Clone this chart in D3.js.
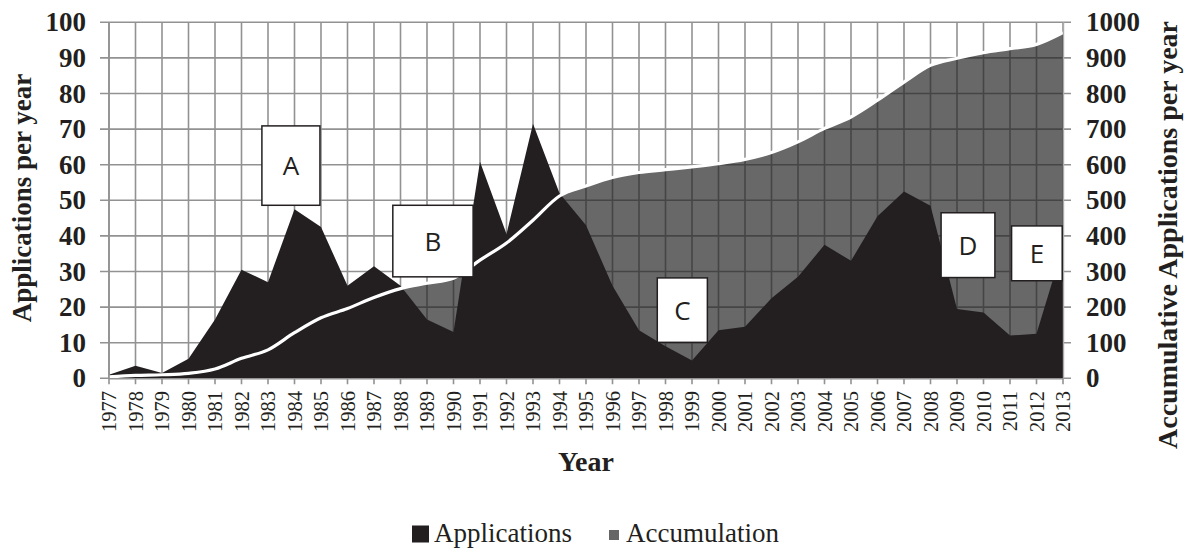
<!DOCTYPE html>
<html>
<head>
<meta charset="utf-8">
<script src="https://cdn.jsdelivr.net/npm/d3@7/dist/d3.min.js"></script>
<style>
  html, body { margin: 0; padding: 0; background: #fff; }
  svg { display: block; }
</style>
</head>
<body>
<svg id="chart" width="1186" height="549"></svg>
<script>
// ---- data ----
const years = d3.range(1977, 2014);
const applications = [1, 3.5, 1.5, 5.5, 16.5, 30.5, 27, 47.5, 42.5, 26, 31.5, 26, 16.5, 13, 60.8, 40.5, 71.5, 52, 43, 26, 13.5, 9, 5, 13.5, 14.5, 22.5, 28.5, 37.5, 33, 45.5, 52.5, 48.5, 19.5, 18.5, 12, 12.5, 37];
const accumulation = [4, 8, 10, 14, 26, 56, 80, 128, 170, 196, 227, 252, 267, 281, 332, 380, 444, 512, 540, 564, 578, 586, 594, 603, 615, 634, 664, 702, 734, 781, 832, 879, 899, 915, 926, 938, 971];
const leftTicks = [0, 10, 20, 30, 40, 50, 60, 70, 80, 90, 100];
const rightTicks = [0, 100, 200, 300, 400, 500, 600, 700, 800, 900, 1000];
const boxLabels = ["A", "B", "C", "D", "E"];
const boxX0 = [1982.77, 1987.71, 1997.69, 2008.40, 2011.06];
const boxX1 = [1984.96, 1990.74, 1999.58, 2010.43, 2012.97];
const boxTop = [70.9, 48.6, 28.2, 46.5, 42.8];
const boxBottom = [48.6, 28.5, 10.1, 28.3, 27.4];
const seriesNames = ["Applications", "Accumulation"];

// ---- layout ----
const svg = d3.select("#chart");
const W = 1186, H = 549;
const L = 109, R = 1063, T = 22.3, B = 378.3;
const ink = "#231f20";
const gridColor = "#929292";

svg.append("rect").attr("width", W).attr("height", H).attr("fill", "#fff");

const x = d3.scaleLinear().domain([1977, 2013]).range([L, R]);
const yL = d3.scaleLinear().domain([0, 100]).range([B, T]);
const yR = d3.scaleLinear().domain([0, 1000]).range([B, T]);

// grid
const g = svg.append("g");
g.selectAll("line.h").data(leftTicks).join("line")
  .attr("x1", L - 9).attr("x2", R + 8)
  .attr("y1", d => yL(d)).attr("y2", d => yL(d))
  .attr("stroke", gridColor).attr("stroke-width", 1.6);
g.selectAll("line.v").data(years).join("line")
  .attr("x1", d => x(d)).attr("x2", d => x(d))
  .attr("y1", T).attr("y2", B + 6)
  .attr("stroke", gridColor).attr("stroke-width", 1.6);

// accumulation area
const data = years.map((yr, i) => ({ yr, a: applications[i], c: accumulation[i] }));
svg.append("path").datum(data)
  .attr("d", d3.area().x(d => x(d.yr)).y0(B).y1(d => yR(d.c)))
  .attr("fill", "#202020").attr("fill-opacity", 0.68);

// applications area
svg.append("path").datum(data)
  .attr("d", d3.area().x(d => x(d.yr)).y0(B).y1(d => yL(d.a)))
  .attr("fill", ink);

// accumulation line
svg.append("path").datum(data)
  .attr("d", d3.line().x(d => x(d.yr)).y(d => yR(d.c)).curve(d3.curveMonotoneX))
  .attr("fill", "none").attr("stroke", "#fff").attr("stroke-width", 3.2)
  .attr("stroke-linejoin", "round");

// axis lines
svg.append("line").attr("x1", L).attr("x2", R).attr("y1", B + 0.5).attr("y2", B + 0.5)
  .attr("stroke", gridColor).attr("stroke-width", 1.6);
svg.append("line").attr("x1", L).attr("x2", L).attr("y1", T).attr("y2", B)
  .attr("stroke", gridColor).attr("stroke-width", 1.6);
svg.append("line").attr("x1", R + 0.5).attr("x2", R + 0.5).attr("y1", T).attr("y2", B)
  .attr("stroke", "#aaa").attr("stroke-width", 1.4);

// boxes
const boxes = boxLabels.map((lab, i) => ({ lab, x0: boxX0[i], x1: boxX1[i], t: boxTop[i], b: boxBottom[i] }));
const bg = svg.append("g").selectAll("g").data(boxes).join("g");
bg.append("rect")
  .attr("x", d => x(d.x0)).attr("y", d => yL(d.t))
  .attr("width", d => x(d.x1) - x(d.x0)).attr("height", d => yL(d.b) - yL(d.t))
  .attr("fill", "#fff").attr("stroke", ink).attr("stroke-width", 1.5);
bg.append("text")
  .attr("x", d => (x(d.x0) + x(d.x1)) / 2)
  .attr("y", d => (yL(d.t) + yL(d.b)) / 2 + 9.5)
  .attr("text-anchor", "middle")
  .attr("font-family", "'Open Sans', sans-serif").attr("font-size", 26)
  .attr("fill", ink).text(d => d.lab);

// tick labels
const serif = "'Liberation Serif', 'Times New Roman', serif";
svg.append("g").selectAll("text").data(leftTicks).join("text")
  .attr("x", 86).attr("y", d => yL(d) + 9)
  .attr("text-anchor", "end").attr("font-family", serif).attr("font-weight", "bold")
  .attr("font-size", 27).attr("fill", ink).text(d => d);
svg.append("g").selectAll("text").data(rightTicks).join("text")
  .attr("x", 1086).attr("y", d => yR(d) + 9)
  .attr("text-anchor", "start").attr("font-family", serif).attr("font-weight", "bold")
  .attr("font-size", 27).attr("fill", ink).text(d => d);
svg.append("g").selectAll("text").data(years).join("text")
  .attr("transform", d => `translate(${x(d) + 7},391) rotate(-90)`)
  .attr("text-anchor", "end").attr("font-family", serif)
  .attr("font-size", 20.5).attr("fill", ink).text(d => d);

// axis titles
svg.append("text").attr("transform", "translate(31,198) rotate(-90)")
  .attr("text-anchor", "middle").attr("font-family", serif).attr("font-weight", "bold")
  .attr("font-size", 27).attr("fill", ink).text("Applications per year");
svg.append("text").attr("transform", "translate(1177,235) rotate(-90)")
  .attr("text-anchor", "middle").attr("font-family", serif).attr("font-weight", "bold")
  .attr("font-size", 28).attr("fill", ink).text("Accumulative Applications per year");
svg.append("text").attr("x", 586).attr("y", 471)
  .attr("text-anchor", "middle").attr("font-family", serif).attr("font-weight", "bold")
  .attr("font-size", 28).attr("fill", ink).text("Year");

// legend
const lg = svg.append("g");
lg.append("rect").attr("x", 412).attr("y", 525.5).attr("width", 17).attr("height", 17).attr("fill", ink);
lg.append("text").attr("x", 434).attr("y", 542).attr("font-family", serif).attr("font-size", 27)
  .attr("fill", ink).text(seriesNames[0]);
lg.append("rect").attr("x", 609).attr("y", 530).attr("width", 10).attr("height", 10).attr("fill", "#666");
lg.append("text").attr("x", 626).attr("y", 542).attr("font-family", serif).attr("font-size", 27)
  .attr("fill", ink).text(seriesNames[1]);
</script>
</body>
</html>
